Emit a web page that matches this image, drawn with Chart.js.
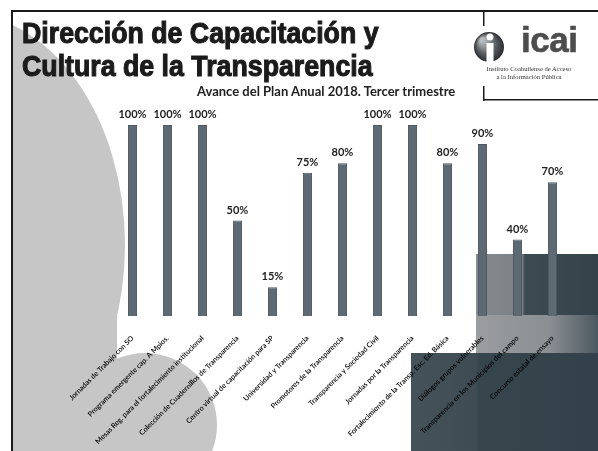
<!DOCTYPE html>
<html>
<head>
<meta charset="utf-8">
<script src="https://cdn.jsdelivr.net/npm/chart.js@4"></script>
<style>
  html, body { margin: 0; padding: 0; background: #fff; }
  #wrap { position: relative; width: 598px; height: 451px; overflow: hidden; }
  #chart { position: absolute; left: 0; top: 0; }
  .txt { position: absolute; white-space: nowrap; }
  #title { left: 22px; top: 18px; font: bold 27px "Liberation Sans", Arial, sans-serif; line-height: 31px; color: #1b1b1b; -webkit-text-stroke: 1px #1b1b1b; transform-origin: 0 0; transform: scale(0.99, 1.06); }
  #subtitle { left: 197px; top: 83px; font: bold 13px Lato, sans-serif; color: #222; }
  #icai { left: 521px; top: 20px; font: bold 35px "Liberation Sans", Arial, sans-serif; color: #4d4d4d; letter-spacing: -0.5px; -webkit-text-stroke: 0.6px #4d4d4d; }
  #inst { left: 472px; top: 65px; width: 114px; text-align: center; font: 6.6px "Liberation Serif", serif; line-height: 8px; color: #333; }
</style>
</head>
<body>
<div id="wrap">
  <canvas id="chart" width="598" height="451"></canvas>
  <div class="txt" id="title">Dirección de Capacitación y<br>Cultura de la Transparencia</div>
  <div class="txt" id="subtitle">Avance del Plan Anual 2018. Tercer trimestre</div>
  <div class="txt" id="icai">icai</div>
  <div class="txt" id="inst">Instituto Coahuilense de Acceso<br>a la Información Pública</div>
</div>
<script>
const programas = [
    'Jornadas de Trabajo con SO',
    'Programa emergente cap. A Mpios.',
    'Mesas Reg. para el fortalecimiento institucional',
    'Colección de Cuadernillos de Transparencia',
    'Centro virtual de capacitación para SP',
    'Universidad y Transparencia',
    'Promotores de la Transparencia',
    'Transparencia y Sociedad Civil',
    'Jornadas por la Transparencia',
    'Fortalecimiento de la Transp. Esc. Ed. Básica',
    'Diálogos grupos vulnerables',
    'Transparencia en los Municipios del campo',
    'Concurso estatal de ensayo'
];
const avance = [100, 100, 100, 50, 15, 75, 80, 100, 100, 80, 90, 40, 70];

// background of the slide: frame, grey shapes, dark blocks, logo box
const slideBackground = {
    id: 'slideBackground',
    beforeDraw(chart) {
        const c = chart.ctx;
        c.save();
        c.fillStyle = '#fff';
        c.fillRect(0, 0, 598, 451);

        c.save();
        c.beginPath();
        c.rect(13, 12, 585, 439);
        c.clip();
        c.fillStyle = '#c6c6c6';
        c.beginPath();
        c.ellipse(-40, 245, 165, 232, 0, 0, Math.PI * 2);
        c.fill();
        c.fillRect(13, 240, 104, 211);
        c.beginPath();
        c.arc(145, 425, 72, 0, Math.PI * 2);
        c.fill();
        c.restore();

        // dark blocks bottom right
        let g = c.createLinearGradient(476, 0, 598, 0);
        g.addColorStop(0, '#868b8f');
        g.addColorStop(0.38, '#7a8085');
        g.addColorStop(0.4, '#3d4a51');
        g.addColorStop(1, '#34424a');
        c.fillStyle = g;
        c.fillRect(476, 254, 122, 61);
        g = c.createLinearGradient(476, 0, 598, 0);
        g.addColorStop(0, '#9b9d9f');
        g.addColorStop(0.6, '#8a8f93');
        g.addColorStop(1, '#4c585f');
        c.fillStyle = g;
        c.fillRect(476, 315, 122, 38);
        g = c.createLinearGradient(411, 0, 598, 0);
        g.addColorStop(0, '#45525a');
        g.addColorStop(0.35, '#3f4c54');
        g.addColorStop(0.36, '#37454d');
        g.addColorStop(1, '#33414a');
        c.fillStyle = g;
        c.fillRect(411, 353, 187, 98);

        // frame lines
        c.fillStyle = '#1a1a1a';
        c.fillRect(11, 10, 587, 2);
        c.fillRect(11, 10, 2, 441);
        c.fillRect(483, 10, 1.5, 16);
        c.fillRect(483, 86, 1.5, 15);
        c.fillRect(483, 99, 115, 1.5);

        // logo sphere with the white i
        g = c.createRadialGradient(482, 40, 2, 489, 47, 15);
        g.addColorStop(0, '#b9bcbe');
        g.addColorStop(0.6, '#5a5f63');
        g.addColorStop(1, '#2a2d30');
        c.fillStyle = g;
        c.beginPath();
        c.arc(489, 47, 15, 0, Math.PI * 2);
        c.fill();
        c.fillStyle = '#fff';
        c.beginPath();
        c.arc(490, 37, 3.5, 0, Math.PI * 2);
        c.fill();
        c.fillRect(486.5, 43, 7, 19);
        c.restore();
    }
};

// percentage above each bar
const valueLabels = {
    id: 'valueLabels',
    afterDatasetsDraw(chart) {
        const c = chart.ctx;
        const meta = chart.getDatasetMeta(0);
        c.save();
        c.font = 'bold 11px Lato, sans-serif';
        c.fillStyle = '#222';
        c.textAlign = 'center';
        c.textBaseline = 'bottom';
        meta.data.forEach((bar, i) => {
            c.fillText(avance[i] + '%', bar.x, bar.y - 5);
        });
        c.restore();
    }
};

new Chart(document.getElementById('chart'), {
    type: 'bar',
    data: {
        labels: programas,
        datasets: [{
            label: 'Avance',
            data: avance,
            backgroundColor: '#5d6a73',
            borderColor: '#4e5860',
            borderWidth: 1,
            barPercentage: 0.26,
            categoryPercentage: 1
        }]
    },
    options: {
        responsive: false,
        animation: false,
        layout: {
            padding: { left: 115, right: 28, top: 125, bottom: 0 }
        },
        plugins: {
            legend: { display: false },
            tooltip: { enabled: false }
        },
        scales: {
            y: { display: false, min: 0, max: 100 },
            x: {
                grid: { display: false },
                border: { display: false },
                afterFit: (scale) => { scale.height = 135; },
                ticks: {
                    autoSkip: false,
                    minRotation: 45,
                    maxRotation: 45,
                    padding: 10,
                    color: '#000',
                    font: { family: 'Lato', size: 7.2, weight: '600' }
                }
            }
        }
    },
    plugins: [slideBackground, valueLabels]
});
</script>
</body>
</html>
